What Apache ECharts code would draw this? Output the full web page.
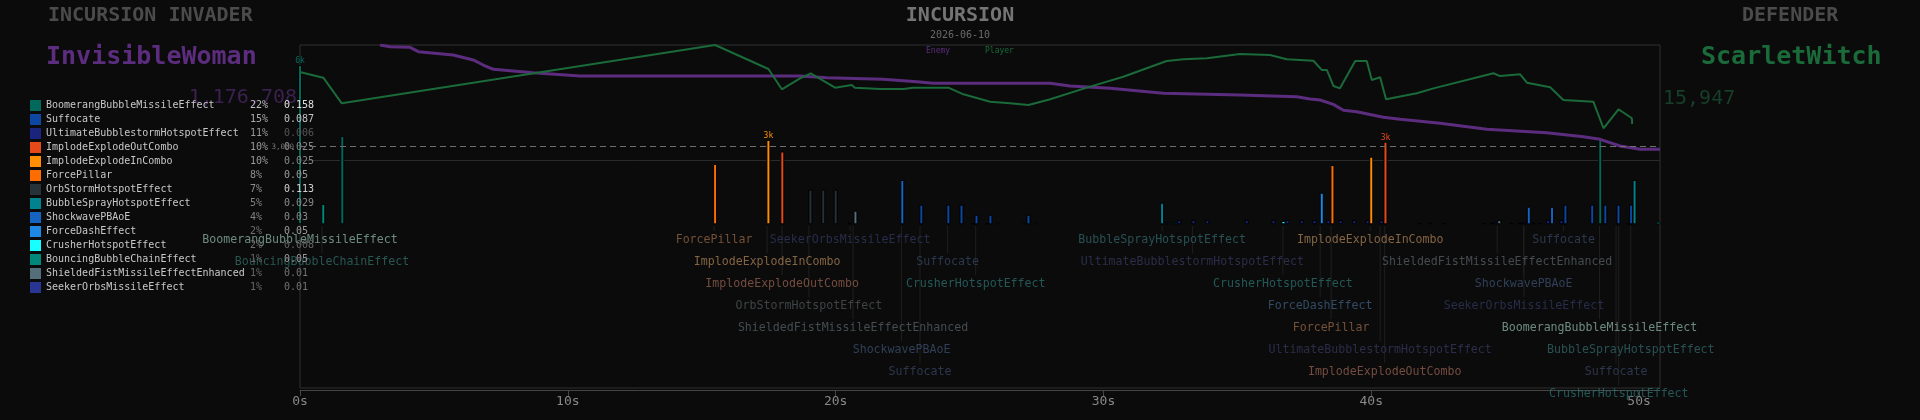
<!DOCTYPE html>
<html>
<head>
<meta charset="utf-8">
<title>Incursion</title>
<script src="https://cdn.jsdelivr.net/npm/echarts@6/dist/echarts.min.js"></script>
<style>
  html, body { margin: 0; padding: 0; background: #0b0b0b; }
  #main { width: 1920px; height: 420px; }
</style>
</head>
<body>
<div id="main"></div>
<script>
const mono = '"DejaVu Sans Mono", monospace'
const T_MAX = 50.78
const threshold = 3000

const modeName = 'INCURSION'
const matchDate = '2026-06-10'
const invaderName = 'InvisibleWoman'
const defenderName = 'ScarletWitch'
const invaderScore = '1,176,708'
const defenderScore = '15,947'

// ability types (legend order)
const typeNames = ['BoomerangBubbleMissileEffect', 'Suffocate', 'UltimateBubblestormHotspotEffect', 'ImplodeExplodeOutCombo',
    'ImplodeExplodeInCombo', 'ForcePillar', 'OrbStormHotspotEffect', 'BubbleSprayHotspotEffect', 'ShockwavePBAoE',
    'ForceDashEffect', 'CrusherHotspotEffect', 'BouncingBubbleChainEffect', 'ShieldedFistMissileEffectEnhanced', 'SeekerOrbsMissileEffect']
const typePct = ['22%', '15%', '11%', '10%', '10%', '8%', '7%', '5%', '4%', '2%', '2%', '1%', '1%', '1%']
const typeVal = ['0.158', '0.087', '0.006', '0.025', '0.025', '0.05', '0.113', '0.029', '0.03', '0.05', '0.008', '0.05', '0.01', '0.01']

// hits: time (s), damage, type index
const barTimes = [0.00, 0.87, 1.58, 15.50, 17.49, 18.01, 19.06, 19.54, 20.00, 20.51, 20.74, 22.49, 23.20, 24.21, 24.70,
    25.14, 25.26, 25.67, 25.78, 26.04, 27.05, 27.20, 27.46, 32.19, 32.36, 32.60, 32.71, 32.83, 33.36, 33.88, 35.35,
    36.35, 36.72, 36.87, 37.40, 37.88, 38.15, 38.40, 38.55, 38.85, 39.37, 39.86, 40.00, 40.38, 40.53, 41.80, 42.21,
    42.70, 44.22, 44.50, 44.65, 44.78, 45.23, 45.53, 45.62, 45.76, 45.88, 46.05, 46.30, 46.60, 46.75, 47.10, 47.25,
    48.25, 48.55, 48.74, 49.23, 49.60, 49.70, 49.83, 50.72]
const barValues = [6150, 785, 3410, 2330, 3260, 2810, 1340, 1340, 1340, 60, 525, 1710, 760, 760, 760,
    40, 370, 40, 370, 60, 60, 370, 60, 835, 100, 80, 80, 165, 165, 165, 165,
    165, 130, 165, 165, 165, 1220, 165, 2290, 165, 165, 165, 2610, 165, 3190, 60, 60,
    60, 60, 60, 100, 165, 60, 60, 60, 100, 680, 60, 60, 165, 680, 165, 760,
    760, 3285, 760, 760, 40, 760, 1710, 100]
const barTypes = [0, 11, 0, 5, 4, 3, 6, 6, 6, 13, 12, 8, 1, 1, 1,
    10, 1, 10, 1, 10, 10, 1, 10, 7, 2, 7, 7, 2, 2, 2, 2,
    2, 10, 2, 2, 2, 9, 2, 5, 2, 2, 2, 4, 2, 3, 13, 13,
    13, 13, 13, 2, 12, 13, 13, 13, 2, 8, 13, 13, 2, 8, 2, 1,
    1, 0, 1, 1, 10, 1, 7, 10]

// annotation labels: time, row, type index
const tagTimes = [0.00, 15.46, 20.54, 32.19, 39.96, 47.18,
    0.82, 17.44, 24.18, 33.32, 44.70,
    18.00, 25.23, 36.70, 45.69,
    19.00, 38.09, 45.70,
    20.65, 38.50, 48.52,
    22.46, 40.33, 49.69,
    23.15, 40.50, 49.14,
    49.24]
const tagRows = [1, 1, 1, 1, 1, 1,
    2, 2, 2, 2, 2,
    3, 3, 3, 3,
    4, 4, 4,
    5, 5, 5,
    6, 6, 6,
    7, 7, 7,
    8]
const tagTypes = [0, 5, 13, 7, 4, 1,
    11, 4, 1, 2, 12,
    3, 10, 10, 8,
    6, 9, 13,
    12, 5, 0,
    8, 2, 7,
    1, 3, 1,
    10]

// health (% of max) over time
const enemyHp = [[2.99, 100], [3.36, 98.5], [4.11, 98.0], [4.42, 94.2], [5.72, 91.3], [6.47, 87.0], [6.84, 82.6],
    [7.22, 78.9], [7.96, 77.4], [8.71, 75.9], [10.46, 73.0], [18.67, 73.0], [19.67, 71.6], [21.78, 70.2], [23.03, 68.1],
    [23.65, 66.7], [28.01, 66.7], [28.75, 64.3], [30.25, 62.3], [31.24, 60.3], [32.24, 58.0], [35.10, 56.5], [37.22, 55.0],
    [37.71, 53.0], [38.09, 52.2], [38.58, 48.4], [38.96, 43.2], [39.46, 42.0], [40.45, 37.1], [41.08, 35.4], [42.57, 31.9],
    [44.31, 26.7], [46.55, 23.7], [47.92, 20.3], [48.54, 18.0], [49.29, 12.2], [50.04, 9.3], [50.78, 9.3]]
const playerHp = [[0.03, 76.3], [0.87, 71.6], [1.56, 49.3], [15.50, 100], [17.49, 79.1], [17.99, 61.5], [18.67, 71.0],
    [19.07, 75.4], [19.98, 62.9], [20.60, 65.2], [20.72, 62.9], [21.66, 61.7], [22.53, 61.7], [22.90, 62.9], [24.21, 62.9],
    [24.77, 57.1], [25.77, 50.7], [26.51, 49.3], [27.20, 47.8], [28.01, 52.8], [29.38, 62.9], [30.74, 72.4], [32.36, 86.1],
    [32.98, 87.6], [33.86, 88.4], [35.10, 92.2], [36.22, 91.3], [36.84, 87.6], [37.84, 86.3], [38.15, 78.3], [38.34, 78.3],
    [38.59, 64.3], [38.83, 62.3], [39.40, 86.1], [39.83, 86.1], [40.02, 69.6], [40.33, 71.9], [40.55, 52.8], [41.70, 58.0],
    [42.32, 62.3], [44.56, 75.4], [44.81, 73.0], [45.56, 74.5], [45.81, 67.2], [46.68, 63.2], [47.17, 52.2], [48.29, 50.7],
    [48.67, 27.6], [49.23, 44.1], [49.73, 36.3], [49.74, 31.3]]

// styles
const typeColors = ['#00695c', '#0d47a1', '#1a237e', '#e64a19', '#ff8f00', '#ff6d00', '#263238', '#00838f', '#1565c0',
    '#1e88e5', '#18ffff', '#00897b', '#546e7a', '#283593']
const tagColors = ['#86aaa0', '#34425f', '#33365a', '#8f5c4c', '#a27b50', '#8d6242', '#4c5154', '#2f6367', '#3b4e6c',
    '#3c5a7a', '#2b6b6b', '#2f6a62', '#525c62', '#30355a']
const pctColors = ['#bdbdbd', '#aaa', '#999', '#999', '#999', '#8f8f8f', '#8f8f8f', '#808080', '#808080', '#707070',
    '#707070', '#666', '#666', '#666']
const valColors = ['#e0e0e0', '#c4c4c4', '#555', '#888', '#888', '#9a9a9a', '#d0d0d0', '#888', '#888', '#999',
    '#666', '#999', '#727272', '#727272']
const purple = '#5c2d7e'
const green = '#1a6a3a'

const myChart = echarts.init(document.getElementById('main'))

const barSeries = typeNames.map(function (name, k) {
    let top = 0
    barTimes.forEach(function (t, i) {
        if (barTypes[i] === k) top = Math.max(top, barValues[i])
    })
    const data = []
    barTimes.forEach(function (t, i) {
        if (barTypes[i] !== k) return
        const item = {value: [t, barValues[i]]}
        if (barValues[i] === top && top >= threshold) {
            item.label = {
                show: true, position: 'top', distance: 0, color: typeColors[k],
                fontSize: 8, fontFamily: mono, formatter: Math.round(top / 1000) + 'k'
            }
        }
        data.push(item)
    })
    return {
        name: name, type: 'bar', xAxisIndex: 1, yAxisIndex: 1,
        barWidth: 4, barGap: '-100%',
        itemStyle: {color: typeColors[k], borderColor: '#000', borderWidth: 1},
        data: data
    }
})
barSeries[0].markLine = {
    silent: true, symbol: ['none', 'none'],
    lineStyle: {color: '#6f6f6f', type: [6, 4], width: 1},
    label: {
        position: 'start', distance: 6, color: '#777', fontSize: 7.5, fontFamily: mono,
        padding: [0, 0, 6, 0], formatter: '3,000'
    },
    data: [{yAxis: threshold}]
}

const tagData = tagTimes.map(function (t, i) {
    return {name: typeNames[tagTypes[i]], value: [t, tagRows[i]], label: {color: tagColors[tagTypes[i]]}}
})

const rich = {n: {width: 204, color: '#c8c8c8', fontSize: 10, fontFamily: mono, lineHeight: 11}}
typeNames.forEach(function (n, i) {
    rich['p' + i] = {width: 34, color: pctColors[i], fontSize: 10, fontFamily: mono, lineHeight: 11}
    rich['v' + i] = {color: valColors[i], fontSize: 10, fontFamily: mono, lineHeight: 11}
})

const hiddenAxis = function (grid, min, max, inverse) {
    return {type: 'value', gridIndex: grid, min: min, max: max, inverse: !!inverse, show: false}
}

const option = {
    backgroundColor: '#0b0b0b',
    animation: false,
    grid: [
        {left: 300, right: 260, top: 45, height: 115},
        {left: 300, right: 260, top: 43, height: 181.3},
        {left: 300, right: 260, top: 218, height: 176},
        {left: 300, right: 260, top: 45, bottom: 32, show: true, borderColor: '#303030', borderWidth: 1}
    ],
    xAxis: [
        {
            type: 'value', gridIndex: 0, min: 0, max: T_MAX,
            axisLine: {show: true, onZero: false, lineStyle: {color: '#2a2a2a'}},
            axisTick: {show: false}, axisLabel: {show: false}, splitLine: {show: false}
        },
        hiddenAxis(1, 0, T_MAX),
        hiddenAxis(2, 0, T_MAX),
        {
            type: 'value', gridIndex: 3, min: 0, max: T_MAX, interval: 10, offset: 2,
            axisLine: {show: true, onZero: false, lineStyle: {color: '#454545'}},
            axisTick: {show: true, length: 6, lineStyle: {color: '#454545'}},
            splitLine: {show: false},
            axisLabel: {
                color: '#888', fontSize: 13, fontFamily: mono, margin: 5, showMaxLabel: false,
                formatter: function (v) { return v % 10 === 0 ? v + 's' : '' }
            }
        }
    ],
    yAxis: [
        hiddenAxis(0, 0, 100),
        hiddenAxis(1, 0, 7000),
        hiddenAxis(2, 0, 8, true),
        hiddenAxis(3, 0, 1)
    ],
    legend: {
        orient: 'vertical', left: 30, top: 100, padding: 0,
        itemWidth: 11, itemHeight: 11, itemGap: 3, icon: 'rect',
        selectedMode: false,
        itemStyle: {borderWidth: 0},
        data: typeNames,
        textStyle: {fontFamily: mono, fontSize: 10, color: '#c8c8c8', lineHeight: 11, rich: rich},
        formatter: function (name) {
            const i = typeNames.indexOf(name)
            return '{n|' + name + '}{p' + i + '|' + typePct[i] + '}{v' + i + '|' + typeVal[i] + '}'
        }
    },
    graphic: [
        {type: 'text', x: 48, y: 16, style: {text: modeName + ' INVADER', font: 'bold 20px ' + mono, fill: '#4b4b4b', textVerticalAlign: 'middle'}},
        {type: 'text', x: 46, y: 57, style: {text: invaderName, font: 'bold 25px ' + mono, fill: purple, textVerticalAlign: 'middle'}},
        {type: 'text', x: 297, y: 98, z: -1, style: {text: invaderScore, font: '20px ' + mono, fill: '#3b2150', textAlign: 'right', textVerticalAlign: 'middle'}},
        {type: 'text', x: 960, y: 16, style: {text: modeName, font: 'bold 20px ' + mono, fill: '#747474', textAlign: 'center', textVerticalAlign: 'middle'}},
        {type: 'text', x: 960, y: 35, style: {text: matchDate, font: '10px ' + mono, fill: '#6a6a6a', textAlign: 'center', textVerticalAlign: 'middle'}},
        {type: 'text', x: 926, y: 51, style: {text: 'Enemy', font: '8px ' + mono, fill: purple, textVerticalAlign: 'middle'}},
        {type: 'text', x: 985, y: 51, style: {text: 'Player', font: '8px ' + mono, fill: green, textVerticalAlign: 'middle'}},
        {type: 'text', x: 1742, y: 16, style: {text: 'DEFENDER', font: 'bold 20px ' + mono, fill: '#4b4b4b', textVerticalAlign: 'middle'}},
        {type: 'text', x: 1701, y: 57, style: {text: defenderName, font: 'bold 25px ' + mono, fill: green, textVerticalAlign: 'middle'}},
        {type: 'text', x: 1663, y: 99, style: {text: defenderScore, font: '20px ' + mono, fill: '#173f29', textVerticalAlign: 'middle'}}
    ],
    series: barSeries.concat([
        {
            name: 'leaders', type: 'custom', xAxisIndex: 2, yAxisIndex: 2, silent: true,
            data: tagTimes.map(function (t, i) { return [t, tagRows[i]] }),
            renderItem: function (params, api) {
                const a = api.coord([api.value(0), 0.36])
                const b = api.coord([api.value(0), api.value(1) - 0.4])
                return {
                    type: 'line', shape: {x1: a[0], y1: a[1], x2: b[0], y2: b[1]},
                    style: {stroke: '#1f1f1f', lineWidth: 1}
                }
            }
        },
        {
            name: 'tags', type: 'scatter', xAxisIndex: 2, yAxisIndex: 2, silent: true, clip: false,
            symbolSize: 1, itemStyle: {color: 'rgba(0,0,0,0)'},
            label: {show: true, position: 'inside', formatter: '{b}', fontFamily: mono, fontSize: 11.6},
            data: tagData
        },
        {
            name: 'Enemy', type: 'line', xAxisIndex: 0, yAxisIndex: 0, showSymbol: false,
            lineStyle: {color: purple, width: 3}, itemStyle: {color: purple}, data: enemyHp
        },
        {
            name: 'Player', type: 'line', xAxisIndex: 0, yAxisIndex: 0, showSymbol: false,
            lineStyle: {color: green, width: 2}, itemStyle: {color: green}, data: playerHp
        }
    ])
}
myChart.setOption(option)
</script>
</body>
</html>
